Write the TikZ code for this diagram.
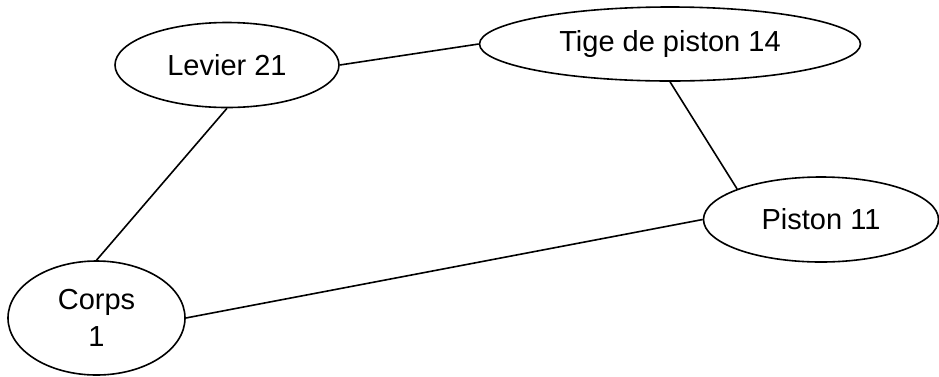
\documentclass[tikz,border=0pt]{standalone}
\usepackage{fontspec}
\setmainfont{Liberation Sans}
\usetikzlibrary{shapes.geometric}
\begin{document}
\begin{tikzpicture}[x=1pt,y=-1pt,
  part/.style={ellipse,draw,line width=1.6pt,inner sep=0pt,align=center,
    font=\fontsize{29}{37}\selectfont},
  link/.style={line width=1.6pt}]
\useasboundingbox (0,0) rectangle (939,376);
\node[part,minimum width=224pt,minimum height=85pt] (lev) at (227,65) {Levier 21};
\node[part,minimum width=381pt,minimum height=74pt] (tig) at (670,44) {Tige de piston 14};
\node[part,minimum width=235pt,minimum height=85pt] (pis) at (821,219.5) {Piston 11};
\node[part,minimum width=177pt,minimum height=114pt] (cor) at (96.5,318) {Corps\\1};
\draw[link] (lev.east) -- (tig.west);
\draw[link] (lev.south) -- (cor.north);
\draw[link] (tig.south) -- (pis.160);
\draw[link] (pis.west) -- (cor.east);
\end{tikzpicture}
\end{document}
